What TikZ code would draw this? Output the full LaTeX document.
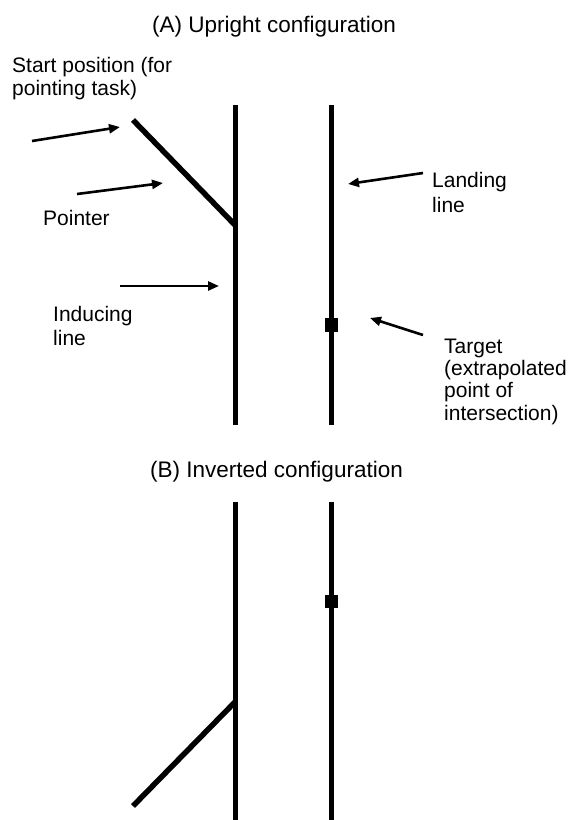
\documentclass[tikz,border=0pt]{standalone}
\usepackage{fontspec}
\setmainfont{Liberation Sans}
\usetikzlibrary{arrows.meta}
\begin{document}
\begin{tikzpicture}[x=1pt,y=-1pt,
  bar/.style={line width=5pt},
  ptr/.style={line width=5.5pt},
  callout/.style={line width=2.6pt,-{Triangle[length=11pt,width=9pt]}},
  lbl/.style={inner sep=0pt,anchor=base west,align=left},
  ttl/.style={inner sep=0pt,anchor=base west,font=\fontsize{22.5}{26}\selectfont},
  tgt/.style={fill=black,minimum width=13pt,minimum height=14pt,inner sep=0pt}]
\useasboundingbox (0,0) rectangle (568,820);
% ---------- (A) upright ----------
\node[ttl] (titleA) at (152,32) {(A) Upright configuration};
\coordinate (indAtop) at (235,105);
\coordinate (indAbot) at (235,425);
\coordinate (lanAtop) at (331.5,105);
\coordinate (lanAbot) at (331.5,425);
\coordinate (ptrAstart) at (133,120);
\coordinate (ptrAend) at (235,225);
\draw[bar] (indAtop) -- (indAbot);
\draw[bar] (lanAtop) -- (lanAbot);
\draw[ptr] (ptrAstart) -- (ptrAend);
\node[tgt] (targetA) at (331.5,325) {};

% multi-line nodes: base anchor sits on the last line
\node[lbl,font=\fontsize{21}{23}\selectfont] (startlbl) at (12,95) {Start position (for\\pointing task)};
\node[lbl,font=\fontsize{21}{23}\selectfont] (pointerlbl) at (43,225) {Pointer};
\node[lbl,font=\fontsize{21}{24.5}\selectfont] (inducinglbl) at (53,345.5) {Inducing\\line};
\node[lbl,font=\fontsize{21}{25}\selectfont] (landinglbl) at (432,212) {Landing\\line};
\node[lbl,font=\fontsize{21}{22.4}\selectfont] (targetlbl) at (444,420.2) {Target\\(extrapolated\\point of\\intersection)};

\coordinate (a1s) at (32,141);  \coordinate (a1e) at (120,127);
\coordinate (a2s) at (77,194);  \coordinate (a2e) at (163,183);
\coordinate (a3s) at (120,286); \coordinate (a3e) at (219,286);
\coordinate (a4s) at (423,173); \coordinate (a4e) at (348,184);
\coordinate (a5s) at (423,335); \coordinate (a5e) at (370,318);
\draw[callout] (a1s) -- (a1e);
\draw[callout] (a2s) -- (a2e);
\draw[callout] (a3s) -- (a3e);
\draw[callout] (a4s) -- (a4e);
\draw[callout] (a5s) -- (a5e);

% ---------- (B) inverted ----------
\node[ttl] (titleB) at (150,477) {(B) Inverted configuration};
\coordinate (indBtop) at (235,502);
\coordinate (indBbot) at (235,820);
\coordinate (lanBtop) at (331.5,502);
\coordinate (lanBbot) at (331.5,820);
\coordinate (ptrBstart) at (235,702);
\coordinate (ptrBend) at (133,806);
\draw[bar] (indBtop) -- (indBbot);
\draw[bar] (lanBtop) -- (lanBbot);
\draw[ptr] (ptrBstart) -- (ptrBend);
\node[tgt,minimum height=13pt] (targetB) at (331.5,601) {};
\end{tikzpicture}
\end{document}
